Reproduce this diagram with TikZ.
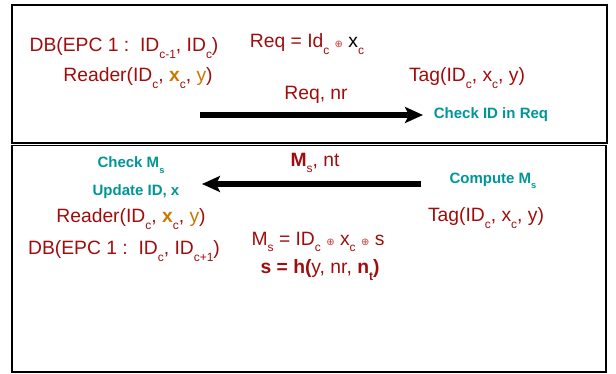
\documentclass[tikz,border=0pt]{standalone}
\usepackage{fontspec}
\setmainfont{Liberation Sans}
\newfontfamily\dejavu{DejaVu Sans}
\usetikzlibrary{arrows.meta}
\definecolor{dred}{RGB}{160,12,12}
\definecolor{lred}{RGB}{200,60,60}
\definecolor{tealc}{RGB}{0,150,150}
\definecolor{orng}{RGB}{204,120,0}
\newcommand{\sbs}[1]{\raisebox{-0.35em}{\scalebox{0.62}{#1}}}
\newcommand{\xor}{\ {\color{lred}\dejavu\fontsize{10}{10}\selectfont ⊕}\ }
\tikzset{
  frame/.style={draw=black,line width=1.8pt},
  rtxt/.style={text=dred,font=\fontsize{19.3}{21}\selectfont,inner sep=0pt},
  ttxt/.style={text=tealc,font=\fontsize{15}{17}\selectfont\bfseries,inner sep=0pt},
  bigarrow/.style={line width=6pt,-{Stealth[length=18pt,width=16pt,inset=4pt]}}
}
\begin{document}
\begin{tikzpicture}[x=1pt,y=-1pt]
\useasboundingbox (0,0) rectangle (616,374);
\draw[frame] (12,5) rectangle (607,143);
\draw[frame] (12,145.5) rectangle (606,372);
% top panel
\node[rtxt] (db1) at (124,48) {DB(EPC 1 :\ \ ID\sbs{c-1}, ID\sbs{c})};
\node[rtxt] (rd1) at (138,78) {Reader(ID\sbs{c}, {\color{orng}\bfseries x}\sbs{c}, {\color{orng}y})};
\node[rtxt] (req) at (307,44) {Req = Id\sbs{c}\xor{\color{black}x}\sbs{c}};
\node[rtxt] (tag1) at (467,78) {Tag(ID\sbs{c}, x\sbs{c}, y)};
\node[rtxt] (reqnr) at (316,95) {Req, nr};
\node[ttxt] (chk) at (491,115) {Check ID in Req};
\coordinate (a1s) at (200,115);
\coordinate (a1e) at (423,115);
\draw[bigarrow] (a1s) -- (a1e);
% bottom panel
\node[rtxt] (msnt) at (315,163) {\textbf{M}\sbs{s}, nt};
\node[ttxt] (chkm) at (131,165) {Check M\sbs{s}};
\node[ttxt] (upd) at (136,192) {Update ID, x};
\node[ttxt] (comp) at (493,181) {Compute M\sbs{s}};
\coordinate (a2s) at (421,184);
\coordinate (a2e) at (202,184);
\draw[bigarrow] (a2s) -- (a2e);
\node[rtxt] (rd2) at (131,219) {Reader(ID\sbs{c}, {\color{orng}\bfseries x}\sbs{c}, {\color{orng}y})};
\node[rtxt] (db2) at (124,251) {DB(EPC 1 :\ \ ID\sbs{c}, ID\sbs{c+1})};
\node[rtxt] (tag2) at (486,218) {Tag(ID\sbs{c}, x\sbs{c}, y)};
\node[rtxt] (ms) at (318,242) {M\sbs{s} = ID\sbs{c}\xor x\sbs{c}\xor s};
\node[rtxt] (hs) at (320,270) {\textbf{s = h(}y, nr, \textbf{n}\sbs{\textbf{t}}\textbf{)}};
\end{tikzpicture}
\end{document}
